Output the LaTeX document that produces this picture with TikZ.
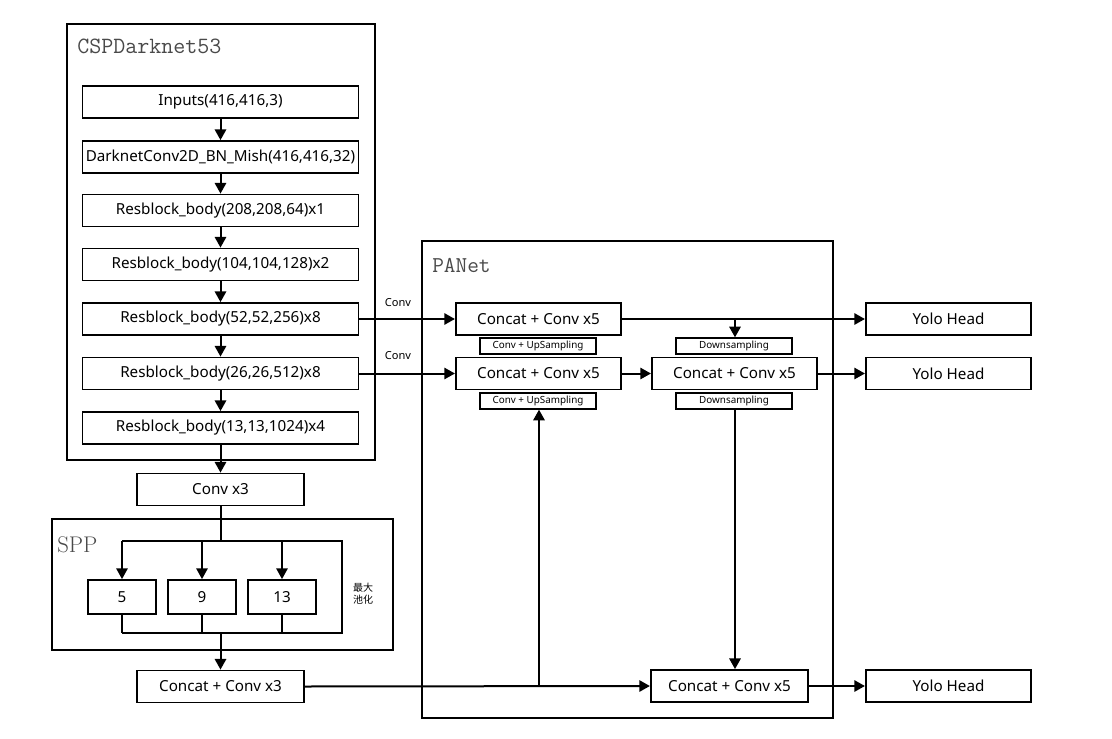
\documentclass[tikz,border=0pt]{standalone}
\usepackage{fontspec}
\setmainfont{Noto Sans}
\newfontfamily\cjk{Noto Sans CJK SC}
\newfontfamily\titlemono{Latin Modern Mono}
\newfontfamily\titleserif{Latin Modern Roman}
\usetikzlibrary{arrows.meta}
\definecolor{titlegray}{HTML}{4A4A4A}
\tikzset{
  box/.style={draw, line width=1.35pt, inner sep=0pt, minimum height=24pt, font=\fontsize{11.4}{13}\selectfont},
  csp/.style={box, minimum width=207pt},
  pan/.style={box, minimum width=124pt},
  small/.style={draw, line width=1pt, inner sep=0pt, minimum width=87pt, minimum height=12pt, font=\fontsize{7.4}{8}\selectfont},
  pool/.style={box, minimum width=51pt, minimum height=25.5pt},
  container/.style={draw, line width=0.8pt},
  tip/.style={-{Triangle[width=8.5pt,length=8pt]}},
  arr/.style={line width=1.5pt, tip},
  ln/.style={line width=1.5pt},
  thin/.style={line width=1.1pt},
  title/.style={anchor=west, text=titlegray, inner sep=0pt},
  lbl/.style={font=\fontsize{8.3}{9}\selectfont, inner sep=0pt}
}
\begin{document}
\begin{tikzpicture}[x=0.75pt,y=-0.75pt]
\useasboundingbox (0,0) rectangle (1112,738);
% containers
\draw[container] (67,24) rectangle (375,460);
\draw[container] (52,519) rectangle (393,650);
\draw[container] (422,241) rectangle (833,718);
\node[title, font=\titlemono\fontsize{17.5}{19}\selectfont] (t1) at (77,46) {CSPDarknet53};
\node[title, font=\titleserif\fontsize{17}{19}\selectfont] (t2) at (57,545) {SPP};
\node[title, font=\titlemono\fontsize{17}{19}\selectfont] (t3) at (432,265) {PANet};
% backbone
\node[csp] (in) at (220.5,102) {Inputs(416,416,3)};
\node[csp] (dc) at (220.5,157) {DarknetConv2D\_BN\_Mish(416,416,32)};
\node[csp] (r1) at (220.5,210.5) {Resblock\_body(208,208,64)x1};
\node[csp] (r2) at (220.5,264.5) {Resblock\_body(104,104,128)x2};
\node[csp] (r3) at (220.5,319) {Resblock\_body(52,52,256)x8};
\node[csp] (r4) at (220.5,373.5) {Resblock\_body(26,26,512)x8};
\node[csp] (r5) at (220.5,428) {Resblock\_body(13,13,1024)x4};
\node[box, minimum width=125pt] (cv3) at (220.5,489.5) {Conv x3};
\node[pool] (p5) at (122,597) {5};
\node[pool] (p9) at (202,597) {9};
\node[pool] (p13) at (282,597) {13};
\node[lbl, font=\cjk\fontsize{7.5}{9}\selectfont, align=left] (mx) at (363,594) {最大\\池化};
\node[box, minimum width=125pt] (cc3) at (220.5,686.5) {Concat + Conv x3};
% PANet
\node[pan] (c1) at (538.5,319) {Concat + Conv x5};
\node[pan] (c2) at (538.5,373.5) {Concat + Conv x5};
\node[pan] (c3) at (734.5,373.5) {Concat + Conv x5};
\node[box, minimum width=118pt] (c4) at (729.5,686) {Concat + Conv x5};
\node[small] (u1) at (538,346) {Conv + UpSampling};
\node[small] (u2) at (538,401) {Conv + UpSampling};
\node[small] (d1) at (734,346) {Downsampling};
\node[small] (d2) at (734,401) {Downsampling};
\node[pan] (y1) at (948.5,319) {Yolo Head};
\node[pan] (y2) at (948.5,373.5) {Yolo Head};
\node[pan] (y3) at (948.5,686) {Yolo Head};
\node[lbl] (cl1) at (398,303) {Conv};
\node[lbl] (cl2) at (398,356) {Conv};
% coordinates
\coordinate (sTop) at (220.5,541);
\coordinate (sBot) at (220.5,633);
\coordinate (sR) at (342,541);
\coordinate (sRB) at (342,633);
\coordinate (up) at (539,686);
% backbone arrows
\draw[arr] (in) -- (dc);
\draw[arr] (dc) -- (r1);
\draw[arr] (r1) -- (r2);
\draw[arr] (r2) -- (r3);
\draw[arr] (r3) -- (r4);
\draw[arr] (r4) -- (r5);
\draw[arr] (r5) -- (cv3);
\draw[ln] (cv3.south) -- (sTop);
% SPP branches
\draw[thin] (p5.north |- sTop) -- (sR) -- (sRB) -- (p5.south |- sBot);
\draw[thin, tip] (p5.north |- sTop) -- (p5.north);
\draw[thin, tip] (p9.north |- sTop) -- (p9.north);
\draw[thin, tip] (p13.north |- sTop) -- (p13.north);
\draw[thin] (p5.south) -- (p5.south |- sBot);
\draw[thin] (p9.south) -- (p9.south |- sBot);
\draw[thin] (p13.south) -- (p13.south |- sBot);
\draw[arr] (sBot) -- (cc3.north);
% to PANet
\draw[arr] (r3.east) -- (c1.west);
\draw[arr] (r4.east) -- (c2.west);
\draw[arr] (c1.east) -- (y1.west);
\draw[arr] (735,319) -- (d1.north -| 735,0);
\draw[arr] (c2.east) -- (c3.west);
\draw[arr] (c3.east) -- (y2.west);
\draw[arr] (d2.south -| 735,0) -- (c4.north -| 735,0);
\draw[arr] (cc3.east) -- (c4.west);
\draw[arr] (up) -- (u2.south -| up);
\draw[arr] (c4.east) -- (y3.west);
\end{tikzpicture}
\end{document}
